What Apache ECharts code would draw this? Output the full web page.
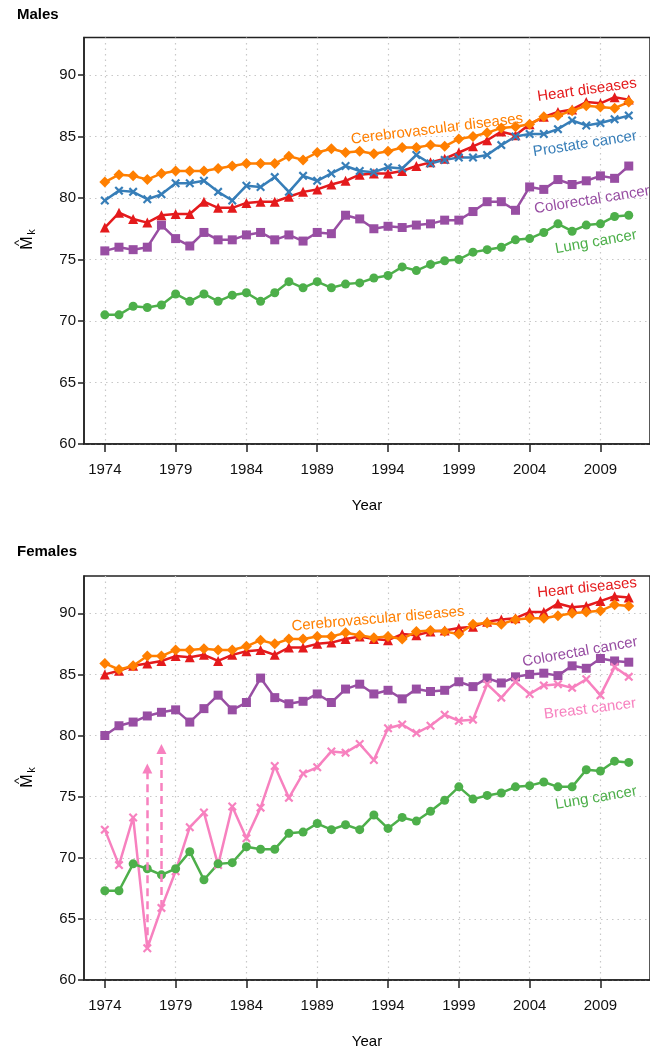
<!DOCTYPE html>
<html><head><meta charset="utf-8">
<script src="https://cdn.jsdelivr.net/npm/echarts@6/dist/echarts.min.js"></script>
<style>html,body{margin:0;padding:0;background:#fff}#c{width:650px;height:1050px}</style>
</head><body><div id="c"></div>
<script>
const years = [1974,1975,1976,1977,1978,1979,1980,1981,1982,1983,1984,1985,1986,1987,1988,1989,1990,1991,1992,1993,1994,1995,1996,1997,1998,1999,2000,2001,2002,2003,2004,2005,2006,2007,2008,2009,2010,2011];
const xTicks = [1974,1979,1984,1989,1994,1999,2004,2009];
const yTicks = [60,65,70,75,80,85,90];

const maleHeart = [77.6,78.8,78.3,78.0,78.6,78.7,78.7,79.7,79.2,79.2,79.6,79.7,79.7,80.1,80.5,80.7,81.1,81.4,81.9,82.0,82.0,82.2,82.6,82.9,83.2,83.7,84.2,84.7,85.4,85.1,86.0,86.6,87.0,87.2,87.8,87.7,88.2,88.0];
const maleCerebro = [81.3,81.9,81.8,81.5,82.0,82.2,82.2,82.2,82.4,82.6,82.8,82.8,82.8,83.4,83.1,83.7,84.0,83.7,83.8,83.6,83.8,84.1,84.1,84.3,84.2,84.8,85.0,85.3,85.7,85.8,86.0,86.6,86.7,87.1,87.5,87.4,87.3,87.8];
const maleProstate = [79.8,80.6,80.5,79.9,80.3,81.2,81.2,81.4,80.5,79.8,81.0,80.9,81.7,80.5,81.8,81.4,82.0,82.6,82.2,82.1,82.5,82.4,83.5,82.8,83.1,83.3,83.3,83.5,84.3,85.0,85.2,85.2,85.6,86.3,85.9,86.1,86.4,86.7];
const maleColorectal = [75.7,76.0,75.8,76.0,77.8,76.7,76.1,77.2,76.6,76.6,77.0,77.2,76.6,77.0,76.5,77.2,77.1,78.6,78.3,77.5,77.7,77.6,77.8,77.9,78.2,78.2,78.9,79.7,79.7,79.0,80.9,80.7,81.5,81.1,81.4,81.8,81.6,82.6];
const maleLung = [70.5,70.5,71.2,71.1,71.3,72.2,71.6,72.2,71.6,72.1,72.3,71.6,72.3,73.2,72.7,73.2,72.7,73.0,73.1,73.5,73.7,74.4,74.1,74.6,74.9,75.0,75.6,75.8,76.0,76.6,76.7,77.2,77.9,77.3,77.8,77.9,78.5,78.6];

const femHeart = [85.0,85.3,85.7,85.9,86.1,86.5,86.4,86.6,86.1,86.6,86.9,87.0,86.6,87.2,87.2,87.5,87.6,87.9,88.1,87.9,87.8,88.3,88.2,88.5,88.6,88.8,88.9,89.3,89.5,89.6,90.1,90.1,90.8,90.5,90.6,91.0,91.4,91.3];
const femCerebro = [85.9,85.4,85.7,86.5,86.5,87.0,87.0,87.1,87.0,87.0,87.3,87.8,87.5,87.9,87.9,88.1,88.1,88.4,88.2,88.0,88.1,87.9,88.5,88.6,88.5,88.3,89.1,89.2,89.1,89.5,89.6,89.6,89.8,90.0,90.1,90.2,90.7,90.6];
const femColorectal = [80.0,80.8,81.1,81.6,81.9,82.1,81.1,82.2,83.3,82.1,82.7,84.7,83.1,82.6,82.8,83.4,82.7,83.8,84.2,83.4,83.7,83.0,83.8,83.6,83.7,84.4,84.0,84.7,84.3,84.8,85.0,85.1,84.9,85.7,85.5,86.3,86.1,86.0];
const femBreast = [72.3,69.4,73.3,62.6,65.9,68.9,72.5,73.7,69.4,74.2,71.6,74.1,77.5,74.9,76.9,77.4,78.7,78.6,79.3,78.0,80.6,80.9,80.2,80.8,81.7,81.2,81.3,84.2,83.1,84.4,83.4,84.1,84.2,83.9,84.6,83.3,85.6,84.8];
const femLung = [67.3,67.3,69.5,69.1,68.6,69.1,70.5,68.2,69.5,69.6,70.9,70.7,70.7,72.0,72.1,72.8,72.3,72.7,72.3,73.5,72.4,73.3,73.0,73.8,74.7,75.8,74.8,75.1,75.3,75.8,75.9,76.2,75.8,75.8,77.2,77.1,77.9,77.8];

// upper-bound arrows for breast cancer
const arrowYears = [1977, 1978];
const arrowTop = [77.3, 78.9];

const C = {heart:'#E41A1C', cerebro:'#FF7F00', prostate:'#377EB8', colorectal:'#984EA3', lung:'#4DAF4A', breast:'#F781BF'};
const CROSS = 'path://M0,1.7L1.7,0L5,3.3L8.3,0L10,1.7L6.7,5L10,8.3L8.3,10L5,6.7L1.7,10L0,8.3L3.3,5Z';
const FONT = 'Liberation Sans';

function pairs(vals){ return years.map((y,i)=>[y, vals[i]]); }
function line(name, vals, color, symbol, size, idx, extra){
  return Object.assign({
    name, type:'line', xAxisIndex:idx, yAxisIndex:idx, data:pairs(vals),
    symbol, symbolSize:size, showSymbol:true,
    lineStyle:{color, width:2.5}, itemStyle:{color, borderColor:color, borderWidth:0},
    animation:false, clip:false, z:3
  }, extra||{});
}

const breastArrows = arrowYears.map((y,i)=>[
  {coord:[y, femBreast[years.indexOf(y)]]},
  {coord:[y, arrowTop[i]]}
]);

function xAx(idx){
  return {
    type:'value', gridIndex:idx, min:1972.53, max:2012.5,
    name:'Year', nameLocation:'middle', nameGap:54,
    nameTextStyle:{fontFamily:FONT, fontSize:15, color:'#000'},
    axisLine:{show:true, lineStyle:{color:'#222', width:1.5}},
    axisTick:{show:true, customValues:xTicks, length:8, lineStyle:{color:'#222', width:1.5}},
    axisLabel:{customValues:xTicks, margin:18, fontFamily:FONT, fontSize:15, color:'#111', formatter:v=>String(v)},
    splitLine:{show:true, lineStyle:{color:'#c8c8c8', width:1.2, type:[1.5,4]}}
  };
}
function yAx(idx){
  return {
    type:'value', gridIndex:idx, min:60, max:93.05,
    axisLine:{show:true, lineStyle:{color:'#222', width:1.5}},
    axisTick:{show:true, customValues:yTicks, length:6, lineStyle:{color:'#222', width:1.5}},
    axisLabel:{customValues:yTicks, margin:8, fontFamily:FONT, fontSize:15, color:'#111', formatter:v=>String(v)},
    splitLine:{show:true, lineStyle:{color:'#c8c8c8', width:1.2, type:[1.5,4]}}
  };
}

function lab(text, x, y, deg, color){
  return {type:'text', x, y, rotation:deg*Math.PI/180, z:10,
    style:{text, fill:color, fontSize:15, fontFamily:FONT, fontStyle:'normal', align:'center', verticalAlign:'middle'}};
}
function yName(cy){
  return {type:'group', x:28, y:cy, rotation:Math.PI/2, children:[
    {type:'text', x:-2, y:0, style:{text:'M', fill:'#000', fontSize:16, fontFamily:FONT, align:'center', verticalAlign:'middle'}},
    {type:'text', x:-2, y:-9, style:{text:'^', fill:'#000', fontSize:13, fontFamily:FONT, align:'center', verticalAlign:'middle'}},
    {type:'text', x:9, y:4, style:{text:'k', fill:'#000', fontSize:11, fontFamily:FONT, align:'center', verticalAlign:'middle'}}
  ]};
}

const option = {
  backgroundColor:'#fff',
  animation:false,
  grid:[
    {left:84, top:37.5, width:573, height:406.5, show:true, borderColor:'#222', borderWidth:1.5, containLabel:false},
    {left:84, top:576, width:573, height:406, show:true, borderColor:'#222', borderWidth:1.5, containLabel:false}
  ],
  xAxis:[xAx(0), xAx(1)],
  yAxis:[yAx(0), yAx(1)],
  series:[
    line('Heart diseases', maleHeart, C.heart, 'triangle', 10, 0),
    line('Cerebrovascular diseases', maleCerebro, C.cerebro, 'diamond', 11, 0),
    line('Prostate cancer', maleProstate, C.prostate, CROSS, 9, 0),
    line('Colorectal cancer', maleColorectal, C.colorectal, 'rect', 9, 0),
    line('Lung cancer', maleLung, C.lung, 'circle', 9, 0),
    line('Heart diseases', femHeart, C.heart, 'triangle', 10, 1),
    line('Cerebrovascular diseases', femCerebro, C.cerebro, 'diamond', 11, 1),
    line('Colorectal cancer', femColorectal, C.colorectal, 'rect', 9, 1),
    line('Breast cancer', femBreast, C.breast, CROSS, 9, 1, {
      markLine:{silent:true, symbol:['none','triangle'], symbolSize:[10,10],
        label:{show:false}, animation:false,
        lineStyle:{color:C.breast, width:2.5, type:[8,5]},
        data:breastArrows}
    }),
    line('Lung cancer', femLung, C.lung, 'circle', 9, 1)
  ],
  graphic:[
    {type:'text', x:17, y:15, style:{text:'Males', fill:'#000', fontSize:15, fontWeight:'bold', fontFamily:FONT, verticalAlign:'middle'}},
    {type:'text', x:17, y:552, style:{text:'Females', fill:'#000', fontSize:15, fontWeight:'bold', fontFamily:FONT, verticalAlign:'middle'}},
    yName(241), yName(779),
    lab('Heart diseases', 587, 90, 8, C.heart),
    lab('Cerebrovascular diseases', 437, 129, 7, C.cerebro),
    lab('Prostate cancer', 585, 144, 9, C.prostate),
    lab('Colorectal cancer', 592, 200, 9, C.colorectal),
    lab('Lung cancer', 596, 242, 10, C.lung),
    lab('Heart diseases', 587, 588, 6, C.heart),
    lab('Cerebrovascular diseases', 378, 619, 5, C.cerebro),
    lab('Colorectal cancer', 580, 652, 10, C.colorectal),
    lab('Breast cancer', 590, 709, 7, C.breast),
    lab('Lung cancer', 596, 798, 9.5, C.lung)
  ]
};
const chart = echarts.init(document.getElementById('c'), null, {renderer:'canvas'});
chart.setOption(option);
</script>
</body></html>
